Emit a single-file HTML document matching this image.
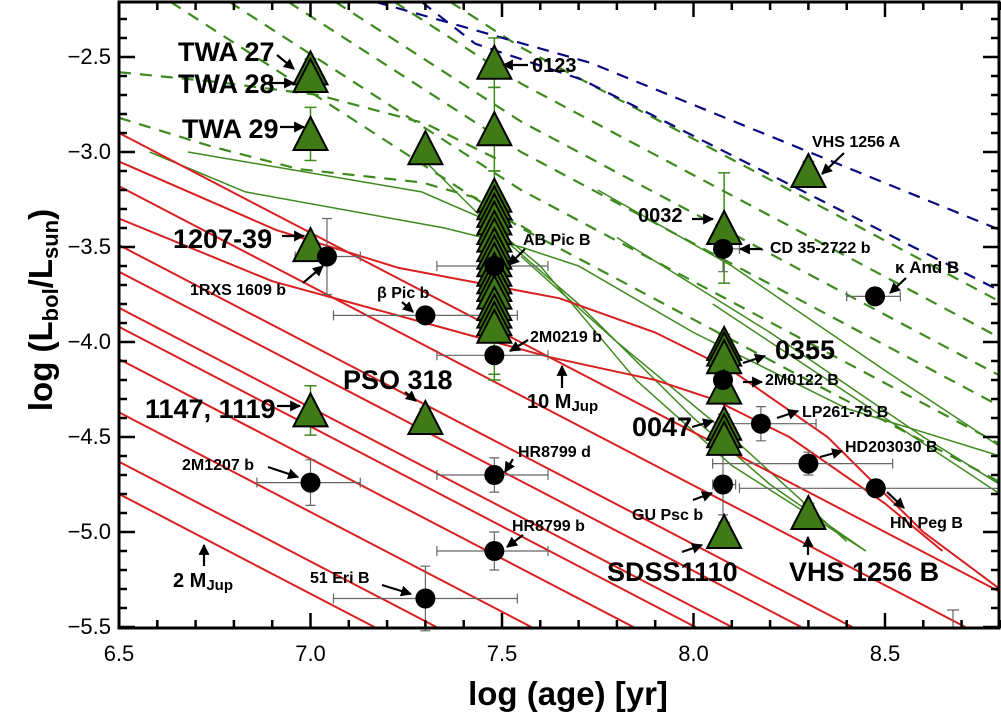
<!DOCTYPE html>
<html><head><meta charset="utf-8">
<style>
html,body{margin:0;padding:0;background:#fff;}
svg{display:block;font-family:"Liberation Sans",Arial,sans-serif;}
</style></head>
<body>
<svg id="chart" width="1001" height="714" viewBox="0 0 1001 714" xmlns="http://www.w3.org/2000/svg">
<defs>
<clipPath id="plotclip"><rect x="119" y="2" width="880" height="626"/></clipPath>
<marker id="ah" viewBox="0 0 10 10" refX="9" refY="5" markerWidth="5" markerHeight="5" orient="auto"><path d="M0,0 L10,5 L0,10 z" fill="#000"/></marker>
</defs>
<g id="tracks" clip-path="url(#plotclip)"></g>
<g id="errs"></g>
<g id="marks"></g>
<g id="axes"></g>
<g id="ann"></g>
</svg>
<script>
// ---- data ----
const redStarts = [-2.9, -3.18, -3.49, -3.63, -3.82, -3.92, -4.09, -4.37, -4.63, -4.8];
const redSlope = -1.05;
const redCurves = [
  [[6.5,-3.05],[6.91,-3.41],[7.23,-3.61],[7.65,-3.77],[7.9,-3.95],[8.1,-4.15],[8.35,-4.5],[8.6,-5.0],[8.8,-5.3]],
  [[6.5,-3.35],[6.9,-3.68],[7.3,-3.9],[7.625,-4.08],[7.9,-4.2],[8.05,-4.3],[8.25,-4.5],[8.5,-4.85],[8.65,-5.1]]
];
const greenSolid = [
  [[6.58,-3.0],[6.83,-3.21],[7.35,-3.4],[7.55,-3.5],[7.7,-3.6],[8.0,-3.95],[8.4,-4.35],[8.8,-4.6]],
  [[6.68,-3.0],[7.29,-3.21],[7.45,-3.35],[7.6,-3.6],[7.85,-4.2],[8.1,-4.65],[8.45,-5.1]],
  [[7.3,-3.05],[7.5,-3.45],[7.7,-3.8],[8.0,-4.4],[8.2,-4.75],[8.45,-5.1]],
  [[7.55,-3.55],[7.8,-4.0],[8.1,-4.5],[8.4,-5.05]],
  [[7.75,-3.2],[8.1,-3.6],[8.5,-4.15],[8.8,-4.55]],
  [[7.8,-3.45],[8.2,-3.95],[8.6,-4.5],[8.8,-4.75]],
  [[8.05,-3.8],[8.5,-4.4],[8.8,-4.8]],
  [[8.6,-5.0],[8.8,-5.3]]
];
const dashAt755 = [-2.45, -2.64, -2.84, -3.0, -3.2, -3.4];
const dashCurves = [
  [[6.5,-2.58],[6.75,-2.63],[7.02,-2.7],[7.3,-2.85],[7.5,-3.05]],
  [[6.5,-2.82],[6.74,-2.97],[6.97,-3.09],[7.29,-3.16],[7.43,-3.24],[7.6,-3.45]]
];
const blueCurves = [
  [[7.17,-2.21],[7.73,-2.53],[8.8,-3.41]],
  [[7.29,-2.21],[7.43,-2.43],[7.71,-2.62],[8.8,-3.73]]
];
const triAge = [7.0,7.0,7.0,7.3,7.48,7.48,7.0,7.0,7.3,8.3,8.08,8.08,8.08,8.08,8.08,8.08,8.08,8.08,8.08,8.3];
const triL   = [-2.56,-2.6,-2.905,-2.98,-2.53,-2.88,-3.49,-4.36,-4.4,-3.1,-3.4,-4.01,-4.04,-4.08,-4.24,-4.43,-4.47,-4.51,-5.0,-4.9];
const triErr = [0.05,0.05,0.14,0,0.13,0.22,0.05,0.13,0.05,0.05,0.29,0.05,0.05,0.05,0.05,0.05,0.05,0.05,0.05,0.05];
const colL = [-3.23,-3.27,-3.31,-3.35,-3.4,-3.44,-3.49,-3.53,-3.57,-3.62,-3.66,-3.7,-3.74,-3.8,-3.84,-3.88,-3.92];
const cirName = ["1rxs-1609-b","beta-pic-b","ab-pic-b","2m0219-b","2m1207-b","hr8799-d","hr8799-b","51-eri-b","cd-35-2722-b","kappa-and-b","2m0122-b","lp261-75-b","hd203030-b","gu-psc-b","hn-peg-b"];
const cirAge = [7.043,7.30,7.48,7.48,7.0,7.48,7.48,7.30,8.077,8.474,8.077,8.176,8.30,8.077,8.476];
const cirL   = [-3.55,-3.86,-3.6,-4.07,-4.74,-4.7,-5.1,-5.35,-3.51,-3.76,-4.2,-4.43,-4.64,-4.75,-4.77];
const cirXlo = [6.96,7.06,7.33,7.33,6.86,7.33,7.33,7.06,8.06,8.40,8.077,8.07,8.05,8.05,8.12];
const cirXhi = [7.13,7.54,7.62,7.62,7.13,7.62,7.62,7.54,8.12,8.54,8.077,8.32,8.52,8.11,8.80];
const cirYe  = [0.2,0.03,0.03,0.03,0.12,0.09,0.1,0.17,0.12,0.04,0.08,0.09,0.06,0.16,0.03];
const xTicks = [6.5,7.0,7.5,8.0,8.5];
const xTickLabels = ["6.5","7.0","7.5","8.0","8.5"];
const yTicks = [-2.5,-3.0,-3.5,-4.0,-4.5,-5.0,-5.5];
const yTickLabels = ["\u22122.5","\u22123.0","\u22123.5","\u22124.0","\u22124.5","\u22125.0","\u22125.5"];

const X = a => 119 + (a - 6.5) * 383;
const Y = l => 57 + (-2.5 - l) * 190;
const NS = "http://www.w3.org/2000/svg";
function mk(tag, parent, attrs){ const e=document.createElementNS(NS,tag); for(const k in attrs) e.setAttribute(k,attrs[k]); parent.appendChild(e); return e; }
const gT=document.getElementById('tracks'), gE=document.getElementById('errs'), gM=document.getElementById('marks'), gA=document.getElementById('axes'), gN=document.getElementById('ann');
function pts(arr){ return arr.map(p=>X(p[0]).toFixed(1)+','+Y(p[1]).toFixed(1)).join(' '); }
function poly(arr, stroke, w, dash, name){
  const e=mk('polyline',gT,{points:pts(arr),fill:'none',stroke:stroke,'stroke-width':w});
  if(dash) e.setAttribute('stroke-dasharray',dash);
  
  
}
dashAt755.forEach((L,i)=>{
  const top = 7.55 - (L + 2.21) / -1.3;
  poly([[top,-2.21],[7.55,L],[8.8,L-1.07*1.25]],'#3f8a1f',2.2,'12,9','green-dashed-track');
});
dashCurves.forEach(c=>poly(c,'#3f8a1f',2.2,'12,9','green-dashed-track'));
blueCurves.forEach(c=>poly(c,'#0a0a80',2.2,'12,9','blue-dashed-track'));
greenSolid.forEach(c=>poly(c,'#3f8a1f',1.5,null,'green-solid-track'));
redStarts.forEach(L=>{
  const end = 6.5 + (L + 5.6) / -redSlope;
  poly([[6.5,L],[end,-5.6]],'#d92020',2,null,'red-cooling-track');
});
redCurves.forEach(c=>poly(c,'#d92020',2,null,'red-cooling-track'));

function tri(a,L,err,name){
  const x=X(a), y=Y(L);
  if(err>0){
    const e=mk('path',gE,{d:`M${x},${Y(L+err)}V${Y(L-err)}M${x-6},${Y(L+err)}h12M${x-6},${Y(L-err)}h12`,stroke:'#3f8a1f','stroke-width':1.5,fill:'none'});
    
    
  }
  const t=mk('polygon',gM,{points:`${x},${y-17} ${x-17},${y+16} ${x+17},${y+16}`,fill:'#3f7a17',stroke:'#000','stroke-width':2});
  
  
}
{
  const x=X(7.48);
  const e=mk('path',gE,{d:`M${x},${Y(-3.1)}V${Y(-4.2)}M${x-6},${Y(-3.1)}h12M${x-6},${Y(-4.2)}h12M${x-6},${Y(-4.17)}h12`,stroke:'#3f8a1f','stroke-width':1.5});
  
  
}
triAge.forEach((a,i)=>tri(a,triL[i],triErr[i],'triangle-object'));
colL.forEach(L=>tri(7.48,L,0,'triangle-object'));
cirAge.forEach((a,i)=>{
  const x=X(a), y=Y(cirL[i]), ye=cirYe[i];
  const e=mk('path',gE,{d:`M${X(cirXlo[i])},${y}H${X(cirXhi[i])}M${X(cirXlo[i])},${y-5}v10M${X(cirXhi[i])},${y-5}v10M${x},${Y(cirL[i]+ye)}V${Y(cirL[i]-ye)}M${x-5},${Y(cirL[i]+ye)}h10M${x-5},${Y(cirL[i]-ye)}h10`,stroke:'#666','stroke-width':1.2,fill:'none'});
  
  
  const c=mk('circle',gM,{cx:x,cy:y,r:10,fill:'#000'});
  
  
});
{ const e=mk('path',gE,{d:'M953,610V627M947,610h12',stroke:'#666','stroke-width':1.2});
  
   }

{ const r=mk('rect',gA,{x:119,y:2,width:880,height:626,fill:'none',stroke:'#000','stroke-width':3});
  
   }
let tk='';
for(let a=6.5;a<=8.81;a+=0.1){ const x=X(a); const major=Math.abs(a*2-Math.round(a*2))<0.01; const len=major?15:8; tk+=`M${x},628v-${len}M${x},2v${len}`; }
for(let L=-2.3;L>=-5.51;L-=0.1){ const y=Y(L); const major=Math.abs(L*2-Math.round(L*2))<0.01; const len=major?16:8; tk+=`M119,${y}h${len}M999,${y}h-${len}`; }
{ const t=mk('path',gA,{d:tk,stroke:'#000','stroke-width':2.5});
  
   }
xTicks.forEach((a,i)=>{ const t=mk('text',gA,{x:X(a),y:661,'text-anchor':'middle','font-size':22}); t.textContent=xTickLabels[i];
  
   });
yTicks.forEach((L,i)=>{ const t=mk('text',gA,{x:111,y:Y(L)+7,'text-anchor':'end','font-size':22}); t.textContent=yTickLabels[i];
  
   });

function txt(s,x,y,size,name){ const t=mk('text',gN,{x:x,y:y,'font-size':size,'font-weight':'bold'}); t.textContent=s;
  
   return t; }
function arr(x1,y1,x2,y2){ const l=mk('line',gN,{x1:x1,y1:y1,x2:x2,y2:y2,stroke:'#000','stroke-width':2.2,'marker-end':'url(#ah)'});
  
   }
txt('TWA 27',178,61,27,'label-twa27'); arr(277,55,294,69);
txt('TWA 28',178,93,27,'label-twa28'); arr(270,83,294,83);
txt('TWA 29',182,138,27,'label-twa29'); arr(280,127,304,127);
txt('1207-39',173,248,27,'label-1207-39'); arr(282,236,304,236);
txt('1147, 1119',145,418,27,'label-1147-1119'); arr(277,406,300,406);
txt('PSO 318',343,389,27,'label-pso318'); arr(405,392,416,401);
txt('SDSS1110',607,581,27,'label-sdss1110'); arr(682,552,702,545);
txt('VHS 1256 B',789,581,27,'label-vhs1256b'); arr(808,555,808,537);
txt('0355',775,359,27,'label-0355'); arr(743,363,765,356);
txt('0047',632,436,27,'label-0047'); arr(692,427,713,421);
txt('0123',532,72,20,'label-0123'); arr(528,65,503,65);
txt('0032',638,222,20,'label-0032'); arr(692,219,713,219);
txt('VHS 1256 A',812,147,16,'label-vhs1256a'); arr(844,153,822,174);
txt('CD 35-2722 b',770,253,16,'label-cd35'); arr(762,249,740,249);
txt('\u03BA And B',895,273,17,'label-kappa-and-b'); arr(906,278,890,293);
txt('1RXS 1609 b',190,295,16,'label-1rxs1609b'); arr(303,283,323,266);
txt('\u03B2 Pic b',377,298,16,'label-beta-pic-b'); arr(402,302,413,312);
txt('AB Pic B',523,245,16,'label-ab-pic-b'); arr(525,249,509,265);
txt('2M0219 b',530,342,16,'label-2m0219b'); arr(528,340,510,351);
txt('2M1207 b',182,470,16,'label-2m1207b'); arr(268,467,298,477);
txt('HR8799 d',518,457,16,'label-hr8799d'); arr(513,459,505,472);
txt('HR8799 b',512,531,16,'label-hr8799b'); arr(523,535,507,547);
txt('51 Eri B',310,583,16,'label-51erib'); arr(382,585,411,594);
txt('GU Psc b',632,520,16,'label-gupscb'); arr(693,500,712,493);
txt('2M0122 B',765,385,16,'label-2m0122b'); arr(743,382,762,382);
txt('LP261-75 B',802,417,16,'label-lp261'); arr(777,418,798,411);
txt('HD203030 B',845,452,16,'label-hd203030'); arr(820,457,842,451);
txt('HN Peg B',890,528,16,'label-hnpegb'); arr(887,492,904,508);
{ const t=txt('2 M',173,587,20,'label-2mjup'); const s=mk('tspan',t,{'font-size':15,dy:3}); s.textContent='Jup'; arr(204,566,204,545); }
{ const t=txt('10 M',527,408,20,'label-10mjup'); const s=mk('tspan',t,{'font-size':15,dy:3}); s.textContent='Jup'; arr(562,388,562,366); }
{ const t=mk('text',gA,{x:568,y:705,'text-anchor':'middle','font-size':33,'font-weight':'bold'}); t.textContent='log (age) [yr]';
  
   }
{ const t=mk('text',gA,{x:0,y:0,'text-anchor':'middle','font-size':33,'font-weight':'bold',transform:'translate(52,310) rotate(-90)'});
  t.appendChild(document.createTextNode('log (L'));
  const s1=mk('tspan',t,{'font-size':22,dy:6}); s1.textContent='bol';
  const s2=mk('tspan',t,{dy:-6}); s2.textContent='/L';
  const s3=mk('tspan',t,{'font-size':22,dy:6}); s3.textContent='sun';
  const s4=mk('tspan',t,{dy:-6}); s4.textContent=')';
  
   }
</script>
</body></html>
